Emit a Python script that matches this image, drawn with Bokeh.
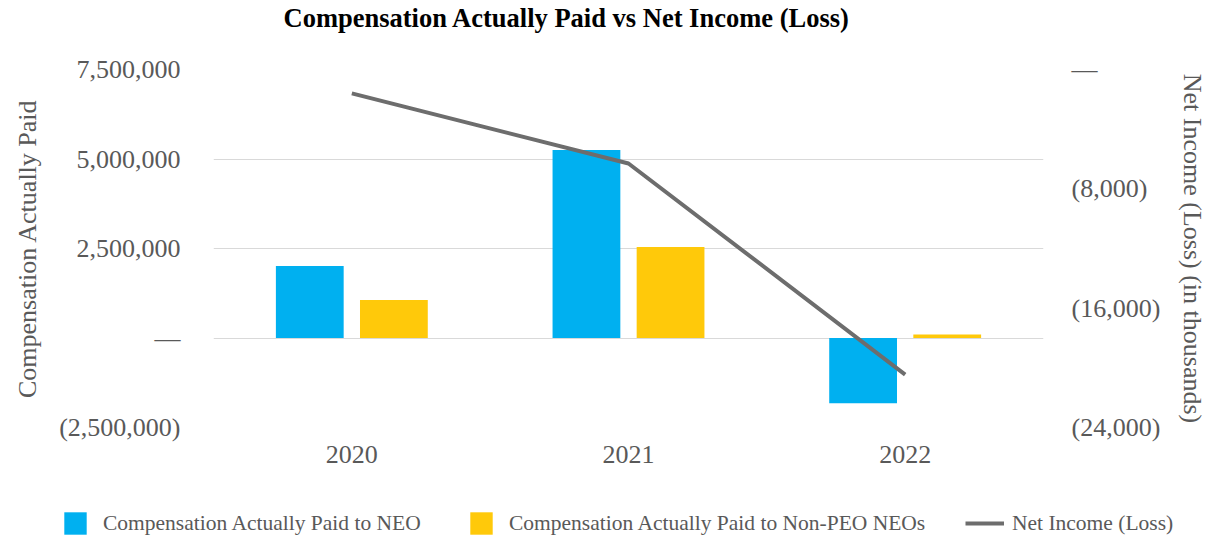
from bokeh.plotting import figure
from bokeh.layouts import column
from bokeh.models import (FactorRange, Range1d, LinearAxis, FixedTicker,
                          ColumnDataSource, Legend, LegendItem, Label)
from bokeh.transform import dodge
from bokeh.embed import file_html
from bokeh.resources import INLINE

# ---- data ----
years = ["2020", "2021", "2022"]
cap_neo = [2010000, 5250000, -1820000]
cap_non_peo = [1060000, 2540000, 100000]
net_income = [-1600, -6300, -20450]   # in thousands

left_ticks = [-2500000, 0, 2500000, 5000000, 7500000]
left_labels = ["(2,500,000)", "\u2014", "2,500,000", "5,000,000", "7,500,000"]
right_ticks = [-24000, -16000, -8000, 0]
right_labels = ["(24,000)", "(16,000)", "(8,000)", "\u2014"]

title = "Compensation Actually Paid vs Net Income (Loss)"
left_title = "Compensation Actually Paid"
right_title = "Net Income (Loss) (in thousands)"
series_names = ["Compensation Actually Paid to NEO",
                "Compensation Actually Paid to Non-PEO NEOs",
                "Net Income (Loss)"]

FONT = "Liberation Serif"
GRAY = "#595959"
BLUE = "#00B0F0"
YELLOW = "#FFC90A"
LINE = "#6D6D6D"
W = 1210

src = ColumnDataSource(dict(year=years, neo=cap_neo, non=cap_non_peo, ni=net_income))

def strip(height, x_range, y_range):
    f = figure(width=W, height=height, output_backend="svg", toolbar_location=None,
               x_range=x_range, y_range=y_range, x_axis_type=None, y_axis_type=None,
               min_border_left=0, min_border_right=0, min_border_top=0,
               min_border_bottom=0)
    f.frame_align = False
    f.outline_line_color = None
    f.xgrid.grid_line_color = None
    f.ygrid.grid_line_color = None
    return f

# ---- header strip with the title ----
hd = strip(40, Range1d(0, W), Range1d(40, 0))
hd.add_layout(Label(x=283, y=17, text=title, text_font=FONT, text_font_size="26.5px",
                    text_font_style="bold", text_color="black",
                    text_align="left", text_baseline="alphabetic"))

# ---- main chart ----
p = figure(x_range=FactorRange(factors=years, range_padding=0),
           y_range=Range1d(-2500000, 7500000),
           width=W, height=450, output_backend="svg", toolbar_location=None,
           min_border_left=213, min_border_right=162, min_border_top=29,
           min_border_bottom=63)
p.frame_align = False
p.extra_y_ranges = {"ni": Range1d(-24000, 0)}
p.outline_line_color = None
p.background_fill_color = "white"
p.border_fill_color = "white"

# grid
p.xgrid.grid_line_color = None
p.ygrid.grid_line_color = "#D9D9D9"
p.ygrid.grid_line_width = 1
p.ygrid.ticker = FixedTicker(ticks=left_ticks)

def style_axis(ax):
    ax.axis_line_color = None
    ax.major_tick_line_color = None
    ax.minor_tick_line_color = None
    ax.major_tick_out = 0
    ax.major_tick_in = 0
    ax.major_label_text_font = FONT
    ax.major_label_text_font_size = "26px"
    ax.major_label_text_color = GRAY
    ax.axis_label_text_font = FONT
    ax.axis_label_text_font_size = "26px"
    ax.axis_label_text_font_style = "normal"
    ax.axis_label_text_color = GRAY

# left axis
ya = p.yaxis[0]
style_axis(ya)
ya.ticker = FixedTicker(ticks=left_ticks)
ya.major_label_overrides = {t: l for t, l in zip(left_ticks, left_labels)}
ya.major_label_standoff = 33
ya.axis_label = left_title
ya.axis_label_standoff = 14

# x axis
xa = p.xaxis[0]
style_axis(xa)
xa.major_label_standoff = 18

# right axis
ra = LinearAxis(y_range_name="ni", ticker=FixedTicker(ticks=right_ticks))
style_axis(ra)
ra.major_label_overrides = {t: l for t, l in zip(right_ticks, right_labels)}
ra.major_label_standoff = 28
ra.axis_label = right_title
ra.axis_label_standoff = 15
p.add_layout(ra, "right")

# bars
p.vbar(x=dodge("year", -0.152, range=p.x_range), top="neo", bottom=0, width=0.245,
       source=src, fill_color=BLUE, line_color=None)
p.vbar(x=dodge("year", 0.152, range=p.x_range), top="non", bottom=0, width=0.245,
       source=src, fill_color=YELLOW, line_color=None)
# line
p.line(x="year", y="ni", y_range_name="ni", source=src, line_color=LINE,
       line_width=4)

# ---- legend strip ----
# its renderers reuse the data but sit far outside its visible y range,
# so only their legend keys are seen
lg = strip(50, FactorRange(factors=years, range_padding=0), Range1d(1e12, 2e12))
k1 = lg.vbar(x="year", top="neo", width=0.245, source=src, fill_color=BLUE, line_color=None)
k2 = lg.vbar(x="year", top="non", width=0.245, source=src, fill_color=YELLOW, line_color=None)
k3 = lg.line(x="year", y="ni", source=src, line_color=LINE, line_width=4)

def make_legend(name, r, loc, gw, standoff):
    return Legend(items=[LegendItem(label=name, renderers=[r])], location=loc,
                  orientation="horizontal", glyph_width=gw, glyph_height=28,
                  label_height=27, label_standoff=standoff, padding=0, margin=0,
                  border_line_color=None, background_fill_alpha=0,
                  label_text_font=FONT, label_text_font_size="21.5px",
                  label_text_color=GRAY)

lg.add_layout(make_legend(series_names[0], k1, (61, 3), 28, 14), "center")
lg.add_layout(make_legend(series_names[1], k2, (467, 3), 28, 14), "center")
lg.add_layout(make_legend(series_names[2], k3, (965, 3), 39, 8), "center")

layout = column(hd, p, lg, spacing=0)
open("out.html", "w").write(file_html(layout, INLINE))
